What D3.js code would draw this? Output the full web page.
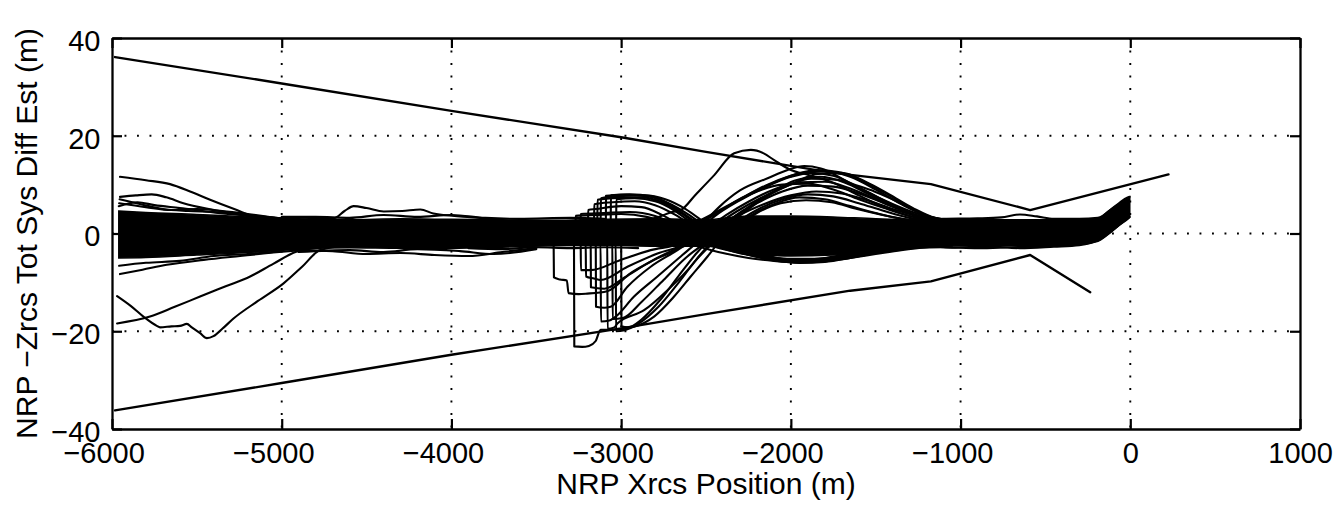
<!DOCTYPE html>
<html>
<head>
<meta charset="utf-8">
<script src="https://cdn.jsdelivr.net/npm/d3@7"></script>
<style>
  html, body { margin: 0; padding: 0; background: #fff; }
  svg { display: block; }
  text { font-family: "Liberation Sans", Arial, Helvetica, sans-serif; fill: #000; }
</style>
</head>
<body>
<svg id="chart" width="1340" height="508"></svg>
<script>
// ---------------- DATA ----------------
const xTicks = [-6000, -5000, -4000, -3000, -2000, -1000, 0, 1000];
const yTicks = [-40, -20, 0, 20, 40];
const xTitle = "NRP Xrcs Position (m)";
const yTitle = "NRP \u2212Zrcs Tot Sys Diff Est (m)";

// dense core of the trajectory bundle (solid where many runs overlap)
const coreX    = [-5960, -5800, -5500, -5200, -4900, -4600, -4300, -4000, -3700, -3400, -3100, -2800, -2500, -2250, -2000, -1750, -1500, -1250, -1000, -750, -500, -300, -190, -130, -60, -20, -3];
const coreLow  = [-5.0, -4.9, -4.4, -3.9, -3.2, -2.9, -3.0, -3.0, -2.8, -2.5, -2.4, -2.6, -2.6, -4.0, -4.6, -4.4, -3.8, -2.8, -2.5, -2.5, -2.4, -2.2, -1.6, -0.2, 1.8, 2.8, 3.3];
const coreHigh = [4.6, 4.3, 3.9, 3.4, 3.0, 2.8, 3.0, 2.9, 2.8, 2.7, 2.9, 3.0, 2.8, 3.6, 3.6, 3.4, 3.0, 2.8, 2.8, 2.8, 2.8, 2.8, 3.1, 4.6, 6.2, 7.1, 7.5];

// outer bounding lines
const upperEnvelope = [[-5982, 36.1], [-5000, 30.7], [-4000, 25.1], [-3000, 19.7], [-2500, 16.7], [-1750, 12.4], [-1175, 10.1], [-590, 4.8], [225, 12.1]];
const lowerEnvelope = [[-5982, -36.2], [-5000, -30.6], [-4000, -24.8], [-3000, -19.4], [-2500, -16.5], [-1650, -11.7], [-1175, -9.8], [-590, -4.4], [-236, -12.0]];

// runs leaving the bundle at the far left
const leftStrands = [
  [[-5953, 11.6], [-5800, 10.9], [-5658, 10.1], [-5540, 8.6], [-5422, 6.9], [-5280, 5.0], [-5127, 3.1], [-4950, 2.5]],
  [[-5953, 7.5], [-5860, 7.8], [-5766, 8.0], [-5680, 7.4], [-5579, 6.2], [-5430, 5.0], [-5284, 4.1], [-5127, 3.1], [-4950, 2.6]],
  [[-5955, 7.0], [-5830, 6.0], [-5700, 5.0], [-5550, 4.6], [-5400, 4.4], [-5200, 3.8], [-5000, 3.0]],
  [[-5958, 6.2], [-5800, 5.4], [-5650, 4.8], [-5500, 5.0], [-5350, 4.6], [-5200, 4.0], [-4950, 2.8]],
  [[-5960, 5.6], [-5850, 6.4], [-5750, 5.8], [-5600, 5.2], [-5400, 4.3], [-5100, 3.4], [-4900, 2.8]],
  [[-5953, -8.3], [-5820, -7.4], [-5677, -6.4], [-5460, -5.4], [-5245, -4.6], [-5050, -3.9], [-4850, -3.3]],
  [[-5958, -6.6], [-5800, -6.0], [-5600, -5.6], [-5400, -4.6], [-5200, -4.2], [-5000, -3.6]],
  [[-5970, -18.4], [-5776, -17.0], [-5630, -15.0], [-5481, -12.9], [-5330, -10.8], [-5186, -8.8], [-5050, -6.2], [-4910, -3.7], [-4700, -2.6]],
  [[-5970, -12.8], [-5890, -14.8], [-5815, -17.0], [-5736, -18.9], [-5717, -19.2], [-5650, -19.0], [-5599, -18.9], [-5559, -18.5], [-5530, -19.2], [-5481, -20.4], [-5441, -21.4], [-5402, -21.0], [-5350, -19.5], [-5284, -17.4], [-5140, -13.8], [-4989, -10.2], [-4880, -6.8], [-4773, -3.4], [-4600, -2.4]]
];

// wiggles along the bundle edges
const edgeStrands = [
  [[-4950, 2.8], [-4800, 3.0], [-4694, 3.1], [-4630, 4.6], [-4576, 5.6], [-4500, 5.2], [-4399, 4.5], [-4290, 4.6], [-4183, 4.9], [-4106, 4.1], [-3907, 3.4], [-3700, 2.8]],
  [[-5000, 3.4], [-4800, 3.4], [-4600, 3.2], [-4400, 3.8], [-4200, 3.4], [-4000, 3.8], [-3800, 3.2], [-3600, 3.0], [-3300, 3.2], [-3100, 3.0]],
  [[-4900, -3.4], [-4700, -3.6], [-4500, -4.2], [-4300, -4.0], [-4100, -4.4], [-3900, -4.6], [-3700, -3.8], [-3500, -3.0]],
  [[-4900, -3.8], [-4600, -3.4], [-4400, -3.8], [-4200, -3.2], [-3950, -3.6], [-3750, -4.2], [-3500, -3.2]],
  [[-3900, -3.0], [-3700, -3.2], [-3500, -2.8], [-3300, -3.0], [-3100, -2.8], [-2900, -3.0]],
  [[-1300, 2.8], [-1100, 3.0], [-900, 3.1], [-760, 3.3], [-650, 3.9], [-550, 3.5], [-450, 3.0], [-300, 3.0], [-191, 3.2], [-93, 5.5], [-24, 7.2], [-4, 7.5]],
  [[-1300, -3.0], [-1100, -2.8], [-900, -3.0], [-700, -2.8], [-500, -2.6], [-271, -2.1], [-132, 0.0], [-53, 2.1], [-4, 3.4]],
  [[-1250, -2.2], [-1050, -2.9], [-850, -2.6], [-650, -3.0], [-450, -2.7], [-300, -2.4], [-180, -1.2], [-80, 1.4], [-8, 3.6]]
];

// runs that jump up near -3200 m and swing down through the bulge
const stepUpLines = [
  [[-3600, 0.0], [-3270, 0.0], [-3268, 3.6], [-3150, 3.8], [-3000, 4.0], [-2850, 3.4], [-2720, 1.8], [-2600, -0.4], [-2480, -2.2], [-2330, -3.4], [-2170, -4.0], [-2000, -4.0], [-1850, -3.6], [-1700, -3.4], [-1550, -3.0], [-1400, -2.6]],
  [[-3600, 1.0], [-3240, 1.2], [-3238, 4.0], [-3100, 4.2], [-2950, 4.4], [-2800, 3.6], [-2680, 1.8], [-2560, -0.5], [-2440, -2.4], [-2300, -3.6], [-2150, -4.2], [-2000, -4.4], [-1850, -4.2], [-1700, -3.8], [-1550, -3.2], [-1400, -2.8], [-1250, -2.4]],
  [[-3600, 0.5], [-3196, 0.6], [-3194, 4.8], [-3150, 5.0], [-3000, 5.6], [-2880, 5.4], [-2760, 3.8], [-2640, 1.4], [-2520, -1.2], [-2400, -3.0], [-2250, -4.4], [-2100, -5.2], [-1950, -5.4], [-1800, -5.0], [-1650, -4.2], [-1500, -3.4], [-1350, -2.8], [-1200, -2.4]],
  [[-3600, 1.6], [-3160, 1.8], [-3158, 6.0], [-3050, 6.4], [-2920, 6.6], [-2800, 5.8], [-2680, 3.8], [-2560, 1.0], [-2440, -1.8], [-2300, -3.8], [-2150, -5.2], [-2000, -5.8], [-1850, -5.6], [-1700, -5.0], [-1550, -4.0], [-1400, -3.2], [-1250, -2.6]],
  [[-3600, -0.5], [-3141, -0.2], [-3139, 6.9], [-3000, 7.3], [-2880, 7.4], [-2760, 6.4], [-2640, 4.0], [-2520, 1.0], [-2400, -1.8], [-2260, -4.0], [-2100, -5.4], [-1950, -6.0], [-1800, -5.8], [-1650, -5.0], [-1500, -4.0], [-1350, -3.2], [-1200, -2.6]],
  [[-3600, 2.0], [-3121, 2.0], [-3119, 7.2], [-2990, 7.7], [-2860, 7.8], [-2740, 7.0], [-2620, 5.0], [-2500, 2.0], [-2380, -1.0], [-2240, -3.4], [-2080, -5.0], [-1920, -5.6], [-1760, -5.4], [-1600, -4.6], [-1450, -3.6], [-1300, -2.9], [-1150, -2.4]],
  [[-3600, -1.0], [-3091, -1.0], [-3089, 7.7], [-2970, 7.9], [-2840, 7.6], [-2720, 6.2], [-2600, 3.8], [-2480, 0.8], [-2360, -2.0], [-2220, -4.2], [-2060, -5.4], [-1900, -5.8], [-1740, -5.2], [-1580, -4.2], [-1420, -3.4], [-1270, -2.8], [-1120, -2.4]],
  [[-3600, 0.8], [-3062, 0.8], [-3060, 7.8], [-2950, 8.0], [-2820, 7.6], [-2700, 5.6], [-2580, 2.8], [-2460, -0.2], [-2330, -2.6], [-2180, -4.4], [-2020, -5.2], [-1860, -5.2], [-1700, -4.6], [-1540, -3.8], [-1380, -3.0], [-1230, -2.5]],
  [[-3600, 1.5], [-3030, 1.5], [-3028, 7.0], [-2920, 7.2], [-2800, 6.6], [-2690, 4.8], [-2580, 2.0], [-2460, -0.8], [-2320, -3.0], [-2170, -4.6], [-2010, -5.4], [-1850, -5.4], [-1690, -4.8], [-1530, -3.9], [-1370, -3.0], [-1220, -2.5]]
];

// runs that drop down near -3200 m and swing up through the bulge
const stepDownLines = [
  [[-3600, -1.0], [-3398, -1.2], [-3396, -9.0], [-3360, -9.4], [-3320, -9.6], [-3310, -12.2], [-3250, -12.4], [-3200, -12.3], [-3082, -11.8], [-2944, -8.1], [-2806, -5.4], [-2649, -2.7], [-2531, 1.5], [-2420, 5.5], [-2300, 8.8], [-2137, 11.3], [-2019, 13.0], [-1921, 13.8], [-1823, 13.3], [-1646, 10.3], [-1508, 8.6], [-1351, 6.2], [-1252, 4.5], [-1154, 3.2], [-1000, 2.6]],
  [[-3600, -0.5], [-3278, -0.8], [-3276, -23.1], [-3230, -23.2], [-3190, -23.0], [-3150, -22.0], [-3121, -19.7], [-3042, -19.7], [-2924, -19.1], [-2806, -17.0], [-2688, -12.9], [-2590, -8.8], [-2491, -4.7], [-2413, -1.3], [-2320, 1.5], [-2200, 4.2], [-2060, 6.2], [-1910, 6.8], [-1760, 6.4], [-1610, 5.0], [-1460, 3.8], [-1300, 2.8], [-1150, 2.2]],
  [[-3600, 0.4], [-3239, 0.2], [-3237, -7.5], [-3180, -7.5], [-3003, -5.4], [-2826, -3.4], [-2649, -2.0], [-2550, 0.5], [-2450, 3.5], [-2300, 6.8], [-2150, 9.5], [-2000, 11.6], [-1880, 12.4], [-1750, 11.8], [-1600, 9.4], [-1450, 6.8], [-1300, 4.6], [-1150, 3.0], [-1000, 2.5]],
  [[-3600, -1.6], [-3209, -1.8], [-3207, -8.8], [-3160, -9.2], [-3121, -9.5], [-2963, -6.8], [-2786, -4.1], [-2609, -2.0], [-2500, 0.8], [-2380, 3.8], [-2250, 6.5], [-2100, 9.0], [-1950, 10.5], [-1800, 10.6], [-1650, 9.2], [-1500, 7.0], [-1350, 4.8], [-1200, 3.0], [-1050, 2.4]],
  [[-3600, 1.0], [-3150, 0.8], [-3148, -15.0], [-3100, -15.2], [-3062, -15.0], [-2963, -10.9], [-2826, -6.8], [-2668, -3.4], [-2550, -0.6], [-2440, 1.8], [-2320, 4.5], [-2180, 7.2], [-2030, 9.6], [-1880, 11.2], [-1730, 11.0], [-1580, 9.0], [-1430, 6.4], [-1280, 4.0], [-1130, 2.6], [-1000, 2.3]],
  [[-3600, -2.0], [-3121, -2.0], [-3119, -18.0], [-3070, -17.8], [-3032, -17.0], [-2924, -12.9], [-2786, -8.8], [-2649, -4.7], [-2531, -1.3], [-2420, 1.2], [-2300, 3.8], [-2160, 6.0], [-2000, 7.8], [-1850, 8.6], [-1700, 8.2], [-1550, 6.8], [-1400, 5.0], [-1250, 3.5], [-1100, 2.5]],
  [[-3600, 0.0], [-3082, -0.2], [-3080, -19.5], [-3040, -19.2], [-3022, -18.4], [-2865, -15.7], [-2727, -11.6], [-2609, -7.5], [-2511, -3.4], [-2432, -0.6], [-2330, 2.0], [-2200, 4.8], [-2050, 7.0], [-1900, 8.0], [-1750, 7.6], [-1600, 6.2], [-1450, 4.6], [-1300, 3.2], [-1150, 2.4]],
  [[-3600, -1.2], [-3032, -1.4], [-3030, -20.0], [-2980, -19.8], [-2900, -18.5], [-2780, -15.0], [-2660, -10.0], [-2560, -5.5], [-2460, -2.0], [-2360, 0.8], [-2240, 3.6], [-2100, 6.0], [-1950, 7.4], [-1800, 7.0], [-1650, 5.6], [-1500, 4.2], [-1350, 3.0], [-1200, 2.3]],
  [[-3600, 1.4], [-3180, 1.2], [-3178, -11.0], [-3100, -11.3], [-2980, -9.0], [-2840, -6.0], [-2700, -3.5], [-2550, -1.5], [-2450, 0.8], [-2330, 3.5], [-2200, 6.2], [-2050, 8.6], [-1900, 9.8], [-1750, 9.6], [-1600, 8.2], [-1450, 6.2], [-1300, 4.2], [-1150, 2.8], [-1000, 2.4]],
  [[-3600, -0.8], [-3052, -1.0], [-3050, -17.5], [-2990, -17.3], [-2880, -14.0], [-2750, -9.5], [-2620, -5.0], [-2500, -1.8], [-2400, 1.0], [-2280, 4.2], [-2140, 7.6], [-1990, 10.2], [-1840, 12.2], [-1700, 12.4], [-1560, 10.6], [-1420, 8.0], [-1280, 5.2], [-1150, 3.2], [-1000, 2.5]],
  [[-3600, 0.6], [-3000, 0.4], [-2998, -19.0], [-2960, -19.2], [-2880, -17.6], [-2770, -13.6], [-2660, -8.6], [-2560, -4.2], [-2470, -0.8], [-2380, 2.2], [-2260, 5.2], [-2120, 8.2], [-1980, 10.8], [-1830, 11.6], [-1680, 10.4], [-1540, 8.0], [-1400, 5.6], [-1260, 3.6], [-1120, 2.6]]
];

// other runs through the bulge
const bulgeLines = [
  [[-2700, 1.0], [-2550, 2.5], [-2400, 5.2], [-2250, 8.0], [-2100, 10.4], [-1950, 12.3], [-1800, 12.8], [-1650, 11.6], [-1500, 9.0], [-1350, 6.0], [-1200, 3.6], [-1050, 2.6]],
  [[-2650, 0.0], [-2500, 2.8], [-2350, 6.0], [-2200, 8.6], [-2050, 10.0], [-1900, 10.2], [-1750, 9.0], [-1600, 7.0], [-1450, 5.2], [-1300, 3.6], [-1150, 2.6]],
  [[-2600, 1.5], [-2450, 4.0], [-2300, 7.0], [-2150, 9.8], [-2000, 11.8], [-1850, 13.0], [-1720, 12.6], [-1580, 10.8], [-1440, 8.2], [-1300, 5.4], [-1180, 3.4], [-1050, 2.6]],
  [[-2700, -1.0], [-2550, -2.6], [-2400, -4.0], [-2250, -5.0], [-2100, -5.6], [-1950, -5.9], [-1800, -5.7], [-1650, -5.0], [-1500, -4.2], [-1350, -3.4], [-1200, -2.8], [-1050, -2.5]],
  [[-2650, -0.5], [-2500, -2.2], [-2350, -3.6], [-2200, -4.6], [-2050, -5.2], [-1900, -5.4], [-1750, -5.0], [-1600, -4.3], [-1450, -3.5], [-1300, -2.9], [-1150, -2.5]],
  [[-2900, 2.4], [-2780, 3.4], [-2700, 4.4], [-2649, 4.8], [-2560, 8.0], [-2450, 12.0], [-2334, 16.4], [-2236, 17.1], [-2160, 16.4], [-2098, 15.0], [-2000, 13.0], [-1900, 12.0], [-1750, 10.4], [-1600, 7.8], [-1450, 5.4], [-1300, 3.6], [-1150, 2.6]]
];

// ---------------- DRAWING ----------------
const W = 1340, H = 508;
const M = { left: 112, right: 1300, top: 38, bottom: 429 };
const svg = d3.select("#chart");
svg.append("rect").attr("width", W).attr("height", H).attr("fill", "#fff");

const x = d3.scaleLinear().domain([-6000, 1000]).range([M.left, M.right]);
const y = d3.scaleLinear().domain([-40, 40]).range([M.bottom, M.top]);

// grid (dotted)
const grid = svg.append("g").attr("stroke", "#000").attr("stroke-width", 1.9)
  .attr("stroke-dasharray", "1.9,10.6").attr("fill", "none");
grid.selectAll("line.gx").data(xTicks.filter(d => d > -6000 && d < 1000)).join("line")
  .attr("x1", d => x(d)).attr("x2", d => x(d)).attr("y1", M.top).attr("y2", M.bottom);
grid.selectAll("line.gy").data(yTicks.filter(d => d > -40 && d < 40)).join("line")
  .attr("y1", d => y(d)).attr("y2", d => y(d)).attr("x1", M.left).attr("x2", M.right);

// clip
svg.append("clipPath").attr("id", "clip").append("rect")
  .attr("x", M.left).attr("y", M.top).attr("width", M.right - M.left).attr("height", M.bottom - M.top);
const plot = svg.append("g").attr("clip-path", "url(#clip)");

// core area
const coreData = coreX.map((v, i) => ({ x: v, lo: coreLow[i], hi: coreHigh[i] }));
plot.append("path").datum(coreData)
  .attr("fill", "#000").attr("stroke", "#000").attr("stroke-width", 1.5)
  .attr("d", d3.area().curve(d3.curveMonotoneX).x(d => x(d.x)).y0(d => y(d.lo)).y1(d => y(d.hi)));

const smooth = d3.line().curve(d3.curveMonotoneX).x(d => x(d[0])).y(d => y(d[1]));
const straight = d3.line().x(d => x(d[0])).y(d => y(d[1]));

const allRuns = [].concat(leftStrands, edgeStrands, stepUpLines, stepDownLines, bulgeLines);
plot.append("g").attr("fill", "none").attr("stroke", "#000").attr("stroke-width", 2.1)
  .attr("stroke-linejoin", "round").attr("stroke-linecap", "round")
  .selectAll("path").data(allRuns).join("path").attr("d", smooth);

plot.append("g").attr("fill", "none").attr("stroke", "#000").attr("stroke-width", 2.4)
  .attr("stroke-linejoin", "round").attr("stroke-linecap", "round")
  .selectAll("path").data([upperEnvelope, lowerEnvelope]).join("path").attr("d", straight);

// axes
const fmt = d3.format("d");
const axB = svg.append("g").attr("transform", `translate(0,${M.bottom})`)
  .call(d3.axisBottom(x).tickValues(xTicks).tickFormat(fmt).tickSizeInner(-10).tickSizeOuter(0).tickPadding(13.5));
const axT = svg.append("g").attr("transform", `translate(0,${M.top})`)
  .call(d3.axisTop(x).tickValues(xTicks).tickFormat("").tickSizeInner(-10).tickSizeOuter(0));
const axL = svg.append("g").attr("transform", `translate(${M.left},0)`)
  .call(d3.axisLeft(y).tickValues(yTicks).tickFormat(fmt).tickSizeInner(-10).tickSizeOuter(0).tickPadding(11.5));
const axR = svg.append("g").attr("transform", `translate(${M.right},0)`)
  .call(d3.axisRight(y).tickValues(yTicks).tickFormat("").tickSizeInner(-10).tickSizeOuter(0));

[axB, axT, axL, axR].forEach(a => {
  a.select(".domain").attr("stroke", "#000").attr("stroke-width", 2.3);
  a.selectAll(".tick line").attr("stroke", "#000").attr("stroke-width", 2.2);
  a.selectAll(".tick text").attr("font-size", 29).attr("fill", "#000")
    .attr("font-family", '"Liberation Sans", Arial, Helvetica, sans-serif');
});
axL.selectAll(".tick text").attr("dy", "0.43em");
// negative x labels: digits centred on the tick, minus sign hanging to the left
axB.selectAll(".tick text").attr("dx", d => d < 0 ? "-0.29em" : 0);

// titles
svg.append("text").attr("x", (M.left + M.right) / 2).attr("y", 493.5)
  .attr("text-anchor", "middle").attr("font-size", 30).text(xTitle);
svg.append("text").attr("transform", `translate(36.5,${(M.top + M.bottom) / 2}) rotate(-90)`)
  .attr("text-anchor", "middle").attr("font-size", 30).text(yTitle);
</script>
</body>
</html>
